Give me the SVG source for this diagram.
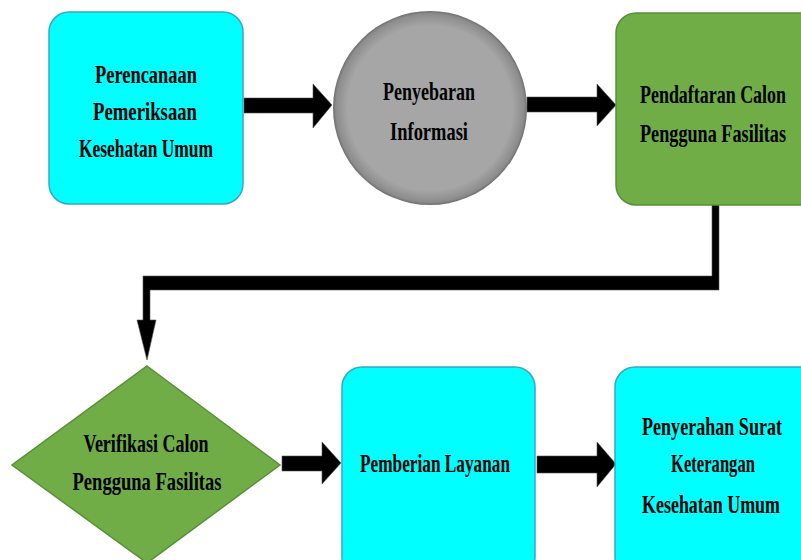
<svg xmlns="http://www.w3.org/2000/svg" width="801" height="560" viewBox="0 0 801 560">
<style>
.cyan{fill:#00ffff;stroke:#3aa7c2;stroke-width:1.5}
.green{fill:#70ad47;stroke:#5a8e38;stroke-width:1.5}
.conn{fill:#000;stroke:#555;stroke-width:0.6}
text{font-family:"Liberation Serif","DejaVu Serif",serif;font-weight:bold;font-size:26px;fill:#000;text-anchor:middle}
</style>
<defs>
<radialGradient id="gray" cx="50%" cy="50%" r="50%">
<stop offset="0.85" stop-color="#a6a6a6"/>
<stop offset="0.97" stop-color="#8c8c8c"/>
<stop offset="1" stop-color="#6f6f6f"/>
</radialGradient>
</defs>
<rect width="801" height="560" fill="#fff"/>
<g id="connectors">
<polygon class="conn" points="244,98 313,98 313,84 332,105 313,128 313,113 244,113"/>
<polygon class="conn" points="527,97 597,97 597,84 616,105 597,126 597,112 527,112"/>
<path class="conn" d="M712,204 L719,204 L719,290 L150,290 L150,320 L156,320 L147,360 L137,320 L143,320 L143,276 L712,276 Z"/>
<polygon class="conn" points="282,456 322,456 322,442 341,463 322,484 322,471 282,471"/>
<polygon class="conn" points="537,456 597,456 597,442 616,464 597,487 597,473 537,473"/>
</g>
<g id="node1">
<rect class="cyan" x="49" y="12" width="194" height="192" rx="20"/>
<g transform="translate(146,0) scale(0.7,1)">
<text x="0" y="83" textLength="145.7" lengthAdjust="spacingAndGlyphs">Perencanaan</text>
<text x="-1.4" y="120" textLength="148.6" lengthAdjust="spacingAndGlyphs">Pemeriksaan</text>
<text x="0" y="157" textLength="191.4" lengthAdjust="spacingAndGlyphs">Kesehatan Umum</text>
</g>
</g>
<g id="node2">
<circle cx="430" cy="108" r="97" fill="url(#gray)"/>
<g transform="translate(429,0) scale(0.7,1)">
<text x="0" y="100" textLength="131.4" lengthAdjust="spacingAndGlyphs">Penyebaran</text>
<text x="0" y="140" textLength="111.4" lengthAdjust="spacingAndGlyphs">Informasi</text>
</g>
</g>
<g id="node3">
<rect class="green" x="616" y="13" width="210" height="192" rx="20"/>
<g transform="translate(713,0) scale(0.7,1)">
<text x="0" y="103" textLength="208.6" lengthAdjust="spacingAndGlyphs">Pendaftaran Calon</text>
<text x="0" y="142" textLength="208.6" lengthAdjust="spacingAndGlyphs">Pengguna Fasilitas</text>
</g>
</g>
<g id="node4">
<polygon class="green" points="147,366 280,465 147,563 12,465"/>
<g transform="translate(147,0) scale(0.7,1)">
<text x="-1.4" y="452" textLength="178.6" lengthAdjust="spacingAndGlyphs">Verifikasi Calon</text>
<text x="0" y="490" textLength="212.9" lengthAdjust="spacingAndGlyphs">Pengguna Fasilitas</text>
</g>
</g>
<g id="node5">
<rect class="cyan" x="342" y="367" width="193" height="210" rx="20"/>
<g transform="translate(435,0) scale(0.7,1)">
<text x="0" y="472" textLength="214.3" lengthAdjust="spacingAndGlyphs">Pemberian Layanan</text>
</g>
</g>
<g id="node6">
<rect class="cyan" x="615" y="367" width="210" height="210" rx="20"/>
<g transform="translate(712,0) scale(0.7,1)">
<text x="0" y="435" textLength="200" lengthAdjust="spacingAndGlyphs">Penyerahan Surat</text>
<text x="1.4" y="472" textLength="120" lengthAdjust="spacingAndGlyphs">Keterangan</text>
<text x="-1.4" y="513" textLength="197.1" lengthAdjust="spacingAndGlyphs">Kesehatan Umum</text>
</g>
</g>
</svg>
